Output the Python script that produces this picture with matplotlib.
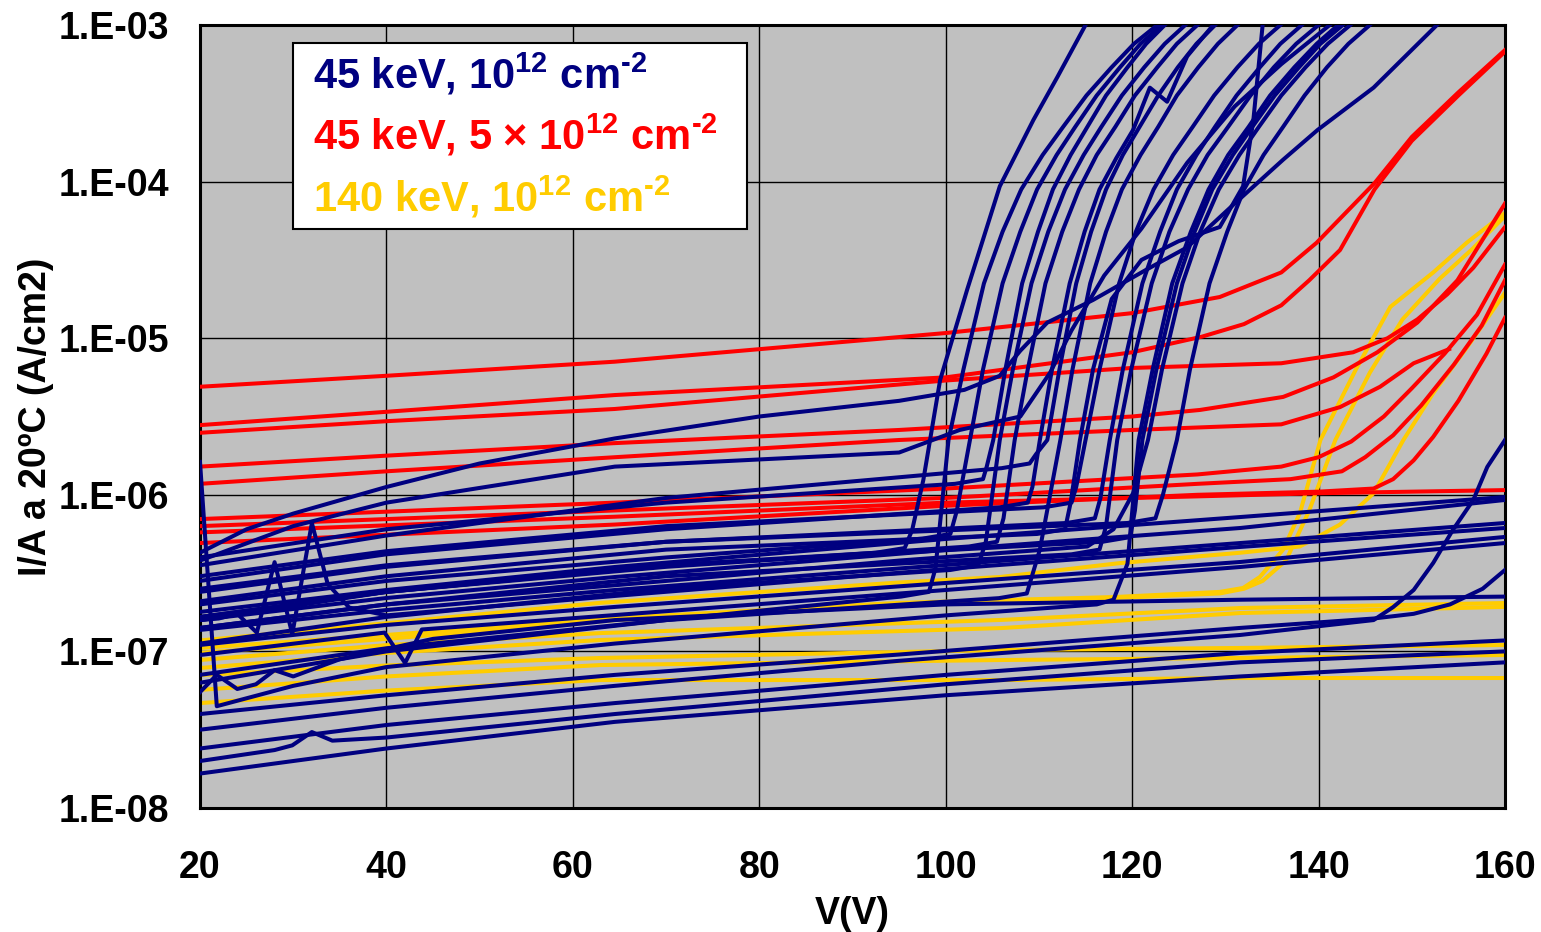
import matplotlib
matplotlib.use('Agg')
import matplotlib.pyplot as plt
import numpy as np
from matplotlib.patches import Rectangle
from matplotlib.ticker import FixedLocator, FuncFormatter, NullLocator

plt.rcParams['font.family'] = ['Liberation Sans', 'DejaVu Sans']
plt.rcParams['font.weight'] = 'bold'
plt.rcParams['mathtext.fontset'] = 'custom'
plt.rcParams['mathtext.rm'] = 'Liberation Sans:bold'
plt.rcParams['mathtext.it'] = 'Liberation Sans:bold'
plt.rcParams['mathtext.bf'] = 'Liberation Sans:bold'
plt.rcParams['mathtext.default'] = 'bf'

# ---------------- data (V in volts, log10 of I/A in A/cm2) ----------------
x_ticks = [20, 40, 60, 80, 100, 120, 140, 160]
y_ticks = [1e-8, 1e-7, 1e-6, 1e-5, 1e-4, 1e-3]

legend_labels = ["45 keV, 10$^{12}$ cm$^{\u20102}$",
                 "45 keV, 5 \u00d7 10$^{12}$ cm$^{\u20102}$",
                 "140 keV, 10$^{12}$ cm$^{\u20102}$"]

# 45 keV, 5x10^12 cm-2 (red)
red_V = [
    [20, 40, 64.5, 100, 120, 129.4, 136, 139.8, 146, 150, 155, 160],
    [20, 40, 64.5, 100, 120, 127.5, 132, 136, 139, 142.3, 146, 150, 155, 160],
    [20, 40, 64.5, 100, 120, 136, 143.7, 147.4, 150.6, 153.8, 156.6, 160],
    [20, 40, 64.5, 95, 120, 127.3, 136.2, 141.6, 146.3, 150.6, 154.9, 160],
    [20, 40, 64.5, 95, 120, 136, 142.3, 146.6, 150.2, 154],
    [20, 64.5, 100, 127, 136, 140, 143.5, 147, 150, 153.5, 157, 160],
    [20, 64.5, 100, 127, 137, 142.5, 145, 148, 151, 154.5, 157.5, 160],
    [20, 64.5, 100, 127, 140, 145.9, 148, 150.2, 152.3, 155, 158, 160],
    [20, 64.5, 100, 127, 140, 160],
]
red_logI = [
    [-5.31, -5.24, -5.15, -4.967, -4.84, -4.737, -4.58, -4.39, -4.01, -3.715, -3.43, -3.16],
    [-5.555, -5.47, -5.363, -5.25, -5.09, -4.99, -4.91, -4.79, -4.63, -4.437, -4.05, -3.74, -3.45, -3.17],
    [-5.604, -5.53, -5.452, -5.27, -5.19, -5.16, -5.09, -5.00, -4.88, -4.72, -4.55, -4.29],
    [-5.82, -5.75, -5.67, -5.586, -5.50, -5.458, -5.375, -5.25, -5.09, -4.90, -4.63, -4.14],
    [-5.93, -5.85, -5.76, -5.65, -5.586, -5.55, -5.44, -5.31, -5.16, -5.07],
    [-6.155, -6.05, -5.96, -5.87, -5.82, -5.76, -5.66, -5.50, -5.32, -5.10, -4.85, -4.53],
    [-6.20, -6.10, -6.02, -5.93, -5.90, -5.85, -5.76, -5.62, -5.43, -5.17, -4.92, -4.63],
    [-6.308, -6.19, -6.07, -6.00, -5.98, -5.96, -5.90, -5.78, -5.63, -5.40, -5.10, -4.87],
    [-6.24, -6.14, -6.05, -6.01, -5.99, -5.97],
]

# 140 keV, 10^12 cm-2 (yellow)
yellow_V = [
    [20, 40, 64.5, 95, 118, 129.4, 131.9, 133.7, 136.2, 138, 140.2, 144, 147.7, 152.3, 155.9, 160],
    [20, 40, 64.5, 95, 118, 129.4, 132, 134, 136.5, 139, 141.8, 145.5, 149, 153, 156.5, 160],
    [20, 40, 62.9, 95, 105.8, 118.7, 131.6, 138, 142.3, 145.9, 149.1, 152.3, 155.9, 160],
    [20, 40, 63, 106, 131.6, 160],
    [20, 40, 63, 106, 131.6, 160],
    [20, 40, 63, 106, 131.6, 160],
    [20, 40, 63, 106, 131.6, 160],
    [20, 40, 63, 106, 131.6, 160],
]
yellow_logI = [
    [-6.978, -6.895, -6.787, -6.69, -6.653, -6.62, -6.595, -6.525, -6.35, -6.116, -5.65, -5.2, -4.80, -4.58, -4.39, -4.20],
    [-7.01, -6.92, -6.80, -6.70, -6.66, -6.63, -6.60, -6.55, -6.42, -6.10, -5.65, -5.22, -4.88, -4.62, -4.43, -4.22],
    [-6.93, -6.82, -6.69, -6.56, -6.525, -6.436, -6.37, -6.33, -6.19, -5.99, -5.65, -5.35, -5.06, -4.71],
    [-7.151, -7.09, -7.042, -6.991, -6.978, -6.959],
    [-7.246, -7.16, -7.087, -7.055, -7.042, -7.023],
    [-7.330, -7.25, -7.183, -7.183, -7.170, -7.170],
    [-7.055, -6.96, -6.883, -6.799, -6.723, -6.691],
    [-7.106, -7.01, -6.927, -6.851, -6.755, -6.716],
]

# 45 keV, 10^12 cm-2 (blue) : curves without breakdown
blue_flat_V = [
    [20, 40, 64.5, 100, 131.6, 160],
    [20, 40, 64.5, 100, 131.6, 160],
    [20, 40, 64.5, 100, 131.6, 160],
    [20, 22, 24, 26.1, 28.0, 29.9, 32.0, 33.7, 36, 40, 64.5, 100, 131.6, 160],
    [20, 40, 64.5, 100, 131.6, 160],
    [20, 39.8, 42.0, 43.8, 64.5, 100, 131.6, 160],
    [20, 21.8, 24, 26, 28, 30, 35, 45, 64.5, 100, 131.6, 160],
    [20, 40, 64.5, 95, 131.6, 144.1, 145.9, 148.0, 150.2, 152.3, 154.4, 156.6, 158.1, 160],
    [20, 40, 64.5, 95, 131.6, 145.9, 150.2, 154.1, 157.6, 160],
    [20, 40, 64.5, 100, 131.6, 160],
    [20, 28, 29.9, 32.0, 34.2, 40, 64.5, 100, 131.6, 160],
    [20, 30, 40, 64.5, 100, 131.6, 160],
]
blue_flat_logI = [
    [-6.748, -6.608, -6.461, -6.282, -6.142, -6.014],
    [-6.799, -6.659, -6.525, -6.352, -6.212, -6.033],
    [-6.863, -6.736, -6.608, -6.448, -6.308, -6.180],
    [-6.80, -6.79, -6.76, -6.88, -6.43, -6.89, -6.18, -6.57, -6.72, -6.77, -6.646, -6.474, -6.333, -6.212],
    [-6.959, -6.831, -6.716, -6.563, -6.429, -6.269],
    [-7.023, -6.88, -7.074, -6.86, -6.768, -6.608, -6.461, -6.308],
    [-7.26, -7.15, -7.24, -7.21, -7.12, -7.16, -7.05, -6.92, -6.80, -6.70, -6.67, -6.65],
    [-7.50, -7.36, -7.22, -7.06, -6.895, -6.812, -6.80, -6.717, -6.608, -6.435, -6.225, -6.033, -5.822, -5.65],
    [-7.40, -7.28, -7.15, -7.02, -6.85, -6.79, -6.76, -6.70, -6.60, -6.48],
    [-7.62, -7.47, -7.33, -7.15, -7.01, -6.93],
    [-7.70, -7.63, -7.60, -7.515, -7.57, -7.55, -7.40, -7.21, -7.07, -7.00],
    [-7.78, -7.70, -7.62, -7.45, -7.28, -7.16, -7.07],
]

# 45 keV, 10^12 cm-2 (blue) : curves with breakdown
blue_bd_V = [
    [20, 40, 70, 92.5, 95.6, 96.4, 97.6, 99.4, 102.3, 104.0, 105.8, 109.4, 112.0, 115.0],
    [20, 40, 70, 95.2, 98.2, 98.9, 100.3, 101.9, 104.1, 106.1, 108.1, 110.4, 112.6, 115.1, 117.8, 120.2, 122.7],
    [20, 40, 70, 97.5, 100.5, 101.2, 102.6, 104.0, 106.1, 108.0, 109.8, 111.9, 113.9, 116.2, 118.7, 120.9, 123.2],
    [20, 40, 70, 101, 104.0, 104.4, 105.1, 106.4, 108.2, 109.9, 111.5, 113.4, 115.2, 117.2, 119.5, 121.5, 123.5],
    [20, 40, 70, 100.5, 103.5, 104.3, 105.8, 107.2, 109.2, 111.0, 112.8, 114.8, 116.7, 118.9, 121.3, 123.5, 125.7],
    [20, 40, 70, 102.5, 105.5, 106.2, 107.4, 108.8, 110.7, 112.5, 114.3, 116.2, 118.2, 120.3, 122.7, 124.8, 127.0],
    [20, 40, 70, 105.8, 108.8, 109.3, 110.1, 111.4, 113.3, 114.9, 116.5, 118.3, 120.1, 121.9, 123.75, 125.9, 128.7],
    [20, 40, 70, 106, 109.0, 109.7, 110.9, 112.2, 114.0, 115.6, 117.2, 119.0, 120.8, 122.8, 124.9, 126.9, 128.9],
    [20, 40, 70, 105.7, 108.7, 110.1, 112.3, 113.6, 115.5, 117.2, 118.9, 120.9, 122.8, 124.8, 127.1, 129.2, 131.3],
    [20, 40, 70, 109.8, 112.8, 113.4, 114.4, 115.8, 117.8, 121, 125, 129.4, 131.9, 133.0, 134.0],
    [20, 40, 70, 110.5, 113.5, 114.0, 115.0, 116.5, 118.6, 120.4, 122.3, 124.4, 126.5, 128.8, 131.3, 133.6, 135.9],
    [20, 40, 70, 113, 116.0, 116.6, 117.6, 119.0, 121.1, 123.0, 124.8, 126.9, 128.9, 131.2, 133.7, 135.9, 138.2],
    [20, 40, 70, 113.5, 116.5, 117.2, 118.4, 119.9, 122.1, 124.0, 126.0, 128.1, 130.3, 132.7, 135.2, 137.6, 140.0],
    [20, 21.8, 30, 40, 64.5, 100, 116.2, 118.0, 119.5, 120.7, 122.2, 124.3, 126.3, 128.2, 130.3, 132.5, 134.8, 137.4, 139.8, 142.1],
    [20, 40, 70, 116.8, 119.8, 120.3, 121.1, 122.6, 124.8, 126.7, 128.6, 130.8, 132.9, 135.3, 137.9, 140.2, 142.6],
    [20, 40, 70, 95, 115.2, 118, 120.1, 121.7, 123.2, 125.4, 127.3, 129.3, 131.5, 133.6, 136.0, 138.6, 141.0, 143.4],
    [20, 40, 70, 119.5, 122.5, 123.3, 124.8, 126.2, 128.3, 130.2, 132.0, 134.1, 136.2, 138.5, 140.9, 143.2, 145.5],
    [20, 25, 30, 40, 50, 64.5, 80, 95, 102, 105.8, 108, 110.9, 115.8, 121.6, 125.9, 131, 136.2, 139.9, 145.9, 152.7],
    [20, 30, 40, 64.5, 95, 101.5, 108, 111.2, 113.5, 117, 121, 125.9, 131, 136, 141.2],
]
blue_bd_logI = [
    [-6.80, -6.62, -6.45, -6.37, -6.34, -6.225, -5.905, -5.267, -4.69, -4.37, -4.03, -3.607, -3.33, -3.0],
    [-7.20, -7.00, -6.80, -6.65, -6.62, -6.47, -5.65, -5.2, -4.65, -4.32, -4.05, -3.83, -3.65, -3.45, -3.27, -3.12, -3.0],
    [-6.70, -6.55, -6.40, -6.28, -6.25, -6.10, -5.65, -5.2, -4.65, -4.32, -4.05, -3.83, -3.65, -3.45, -3.27, -3.12, -3.0],
    [-6.40, -6.22, -6.05, -5.93, -5.90, -5.82, -5.65, -5.2, -4.65, -4.32, -4.05, -3.83, -3.65, -3.45, -3.27, -3.12, -3.0],
    [-6.95, -6.78, -6.60, -6.48, -6.45, -6.30, -5.65, -5.2, -4.65, -4.32, -4.05, -3.83, -3.65, -3.45, -3.27, -3.12, -3.0],
    [-6.78, -6.62, -6.46, -6.33, -6.30, -6.15, -5.65, -5.2, -4.65, -4.32, -4.05, -3.83, -3.65, -3.45, -3.27, -3.12, -3.0],
    [-6.55, -6.38, -6.22, -6.08, -6.05, -5.95, -5.65, -5.2, -4.65, -4.32, -4.05, -3.85, -3.67, -3.40, -3.49, -3.2, -3.0],
    [-6.45, -6.26, -6.02, -5.83, -5.80, -5.74, -5.65, -5.2, -4.65, -4.32, -4.05, -3.83, -3.65, -3.45, -3.27, -3.12, -3.0],
    [-7.15, -6.98, -6.80, -6.66, -6.63, -6.35, -5.65, -5.2, -4.65, -4.32, -4.05, -3.83, -3.65, -3.45, -3.27, -3.12, -3.0],
    [-6.68, -6.52, -6.35, -6.25, -6.22, -6.05, -5.65, -5.2, -4.75, -4.5, -4.38, -4.29, -4.03, -3.61, -3.0],
    [-6.52, -6.36, -6.20, -6.08, -6.05, -5.95, -5.65, -5.2, -4.65, -4.32, -4.05, -3.83, -3.65, -3.45, -3.27, -3.12, -3.0],
    [-6.62, -6.46, -6.30, -6.18, -6.15, -6.02, -5.65, -5.2, -4.65, -4.32, -4.05, -3.83, -3.65, -3.45, -3.27, -3.12, -3.0],
    [-6.85, -6.70, -6.52, -6.38, -6.35, -6.20, -5.65, -5.2, -4.65, -4.32, -4.05, -3.83, -3.65, -3.45, -3.27, -3.12, -3.0],
    [-5.79, -7.35, -7.22, -7.10, -6.95, -6.77, -6.70, -6.67, -6.44, -5.65, -5.2, -4.65, -4.32, -4.05, -3.83, -3.65, -3.45, -3.27, -3.12, -3.0],
    [-6.78, -6.62, -6.45, -6.30, -6.27, -6.10, -5.65, -5.2, -4.65, -4.32, -4.05, -3.83, -3.65, -3.45, -3.27, -3.12, -3.0],
    [-6.85, -6.70, -6.55, -6.42, -6.33, -6.22, -5.99, -5.65, -5.2, -4.65, -4.32, -4.05, -3.83, -3.65, -3.45, -3.27, -3.12, -3.0],
    [-6.60, -6.45, -6.30, -6.18, -6.15, -6.0, -5.65, -5.2, -4.65, -4.32, -4.05, -3.83, -3.65, -3.45, -3.27, -3.12, -3.0],
    [-6.37, -6.22, -6.12, -5.95, -5.80, -5.64, -5.50, -5.40, -5.33, -5.24, -5.08, -4.90, -4.756, -4.56, -4.42, -4.14, -3.86, -3.67, -3.40, -3.0],
    [-6.42, -6.2, -6.05, -5.82, -5.73, -5.586, -5.50, -5.22, -4.95, -4.6, -4.3, -3.88, -3.52, -3.25, -3.0],
]

# ---------------- styles ----------------
C_BLUE = '#000080'
C_RED = '#FF0000'
C_YEL = '#FFCC00'
LW = 2.9

W, H = 1541, 932
fig = plt.figure(figsize=(W / 100, H / 100), dpi=100)
ax = fig.add_axes([200 / W, 1 - 808 / H, 1305 / W, 783 / H])
ax.set_facecolor('#C0C0C0')

for v, l in zip(yellow_V, yellow_logI):
    ax.plot(v, 10 ** np.array(l), color=C_YEL, lw=LW, solid_joinstyle='round', zorder=2)
for v, l in zip(red_V, red_logI):
    ax.plot(v, 10 ** np.array(l), color=C_RED, lw=LW, solid_joinstyle='round', zorder=3)
for v, l in zip(blue_flat_V + blue_bd_V, blue_flat_logI + blue_bd_logI):
    ax.plot(v, 10 ** np.array(l), color=C_BLUE, lw=LW, solid_joinstyle='round', zorder=4)

ax.set_xlim(20, 160)
ax.set_yscale('log')
ax.set_ylim(1e-8, 1e-3)
ax.xaxis.set_major_locator(FixedLocator(x_ticks))
ax.yaxis.set_major_locator(FixedLocator(y_ticks))
ax.yaxis.set_minor_locator(NullLocator())
ax.yaxis.set_major_formatter(FuncFormatter(lambda v, p: "1.E-%02d" % int(round(-np.log10(v)))))
ax.grid(True, color='black', linewidth=1.0)
ax.set_axisbelow(True)
for s in ax.spines.values():
    s.set_linewidth(2.2)
    s.set_color('black')
ax.tick_params(axis='both', length=0, labelsize=27, colors='black')
ax.tick_params(axis='x', pad=30)
ax.tick_params(axis='y', pad=22)
for lab in ax.get_xticklabels() + ax.get_yticklabels():
    lab.set_fontweight('bold')

ax.set_xlabel('V(V)', fontsize=27, fontweight='bold')
ax.xaxis.set_label_coords(0.5, -0.112)
ax.set_ylabel('I/A a 20ºC (A/cm2)', fontsize=27, fontweight='bold')
ax.yaxis.set_label_coords(-0.112, 0.5)

# legend box
ax.add_patch(Rectangle((0.0713, 0.7395), 0.4192 - 0.0713, 0.977 - 0.7395,
                       transform=ax.transAxes, facecolor='white', edgecolor='black',
                       linewidth=1.5, zorder=10))
for txt, col, yb in zip(legend_labels, [C_BLUE, C_RED, C_YEL], [0.9183, 0.8404, 0.7612]):
    ax.text(0.0866, yb, txt, transform=ax.transAxes, color=col, fontsize=30,
            fontweight='bold', va='baseline', ha='left', zorder=11)

fig.savefig('out.png', dpi=100)
